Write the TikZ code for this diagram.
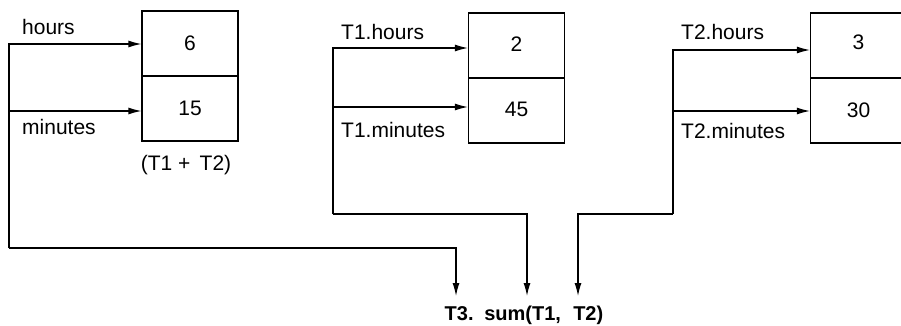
\documentclass[tikz,border=0pt]{standalone}
\usepackage{fontspec}
\setmainfont{Liberation Sans}
\usetikzlibrary{arrows.meta}
\begin{document}
\begin{tikzpicture}[x=1pt,y=-1pt,
  every node/.style={font=\fontsize{21}{25}\selectfont},
  cell/.style={draw,line width=1.2pt,minimum width=96pt,minimum height=65pt,inner sep=0pt,anchor=center},
  arr/.style={line width=1.2pt,-{Latex[length=13pt,width=7pt]}},
  lbl/.style={anchor=base west,inner sep=0pt}]
\useasboundingbox (0,0) rectangle (901,326);
% boxes
\node[cell] (b1h) at (190,43.5) {6};
\node[cell] (b1m) at (190,108.5) {\raisebox{-2pt}{15}};
\node[cell] (b2h) at (516.5,45.5) {\raisebox{2pt}{2}};
\node[cell] (b2m) at (516.5,110.5) {\raisebox{2pt}{45}};
\node[cell] (b3h) at (858.5,45.5) {\raisebox{6pt}{3}};
\node[cell] (b3m) at (858.5,110.5) {\raisebox{-4pt}{30}};
% labels
\node[lbl] (l1) at (22,35) {hours};
\node[lbl] (l2) at (22,135) {minutes};
\node[inner sep=0pt] (l3) at (186,165) {(T1 + \,T2)};
\node[lbl] (l4) at (341,40) {T1.hours};
\node[lbl] (l5) at (341,137) {T1.minutes};
\node[lbl] (l6) at (681,40) {T2.hours};
\node[lbl] (l7) at (681,139) {T2.minutes};
\node[inner sep=0pt,font=\fontsize{20}{24}\selectfont\bfseries] (t3) at (524,315) {T3.\, sum(T1,\,\, T2)};
% connector corners
\coordinate (c1) at (9,248);
\coordinate (c2) at (333,214);
\coordinate (c3) at (673,214);
\coordinate (a1) at (456,296);
\coordinate (a2) at (527,296);
\coordinate (a3) at (578,296);
% arrows into boxes
\draw[arr] (c1) |- ([yshift=-0.5pt]b1h.west);
\draw[arr] (c1) |- ([yshift=-2.5pt]b1m.west);
\draw[arr] (c2) |- ([yshift=-2.5pt]b2h.west);
\draw[arr] (c2) |- ([yshift=3.5pt]b2m.west);
\draw[arr] (c3) |- ([yshift=-4.5pt]b3h.west);
\draw[arr] (c3) |- ([yshift=-0.5pt]b3m.west);
% arrows down to T3
\draw[arr] (c1) -| (a1);
\draw[arr] (c2) -| (a2);
\draw[arr] (c3) -| (a3);
\end{tikzpicture}
\end{document}
